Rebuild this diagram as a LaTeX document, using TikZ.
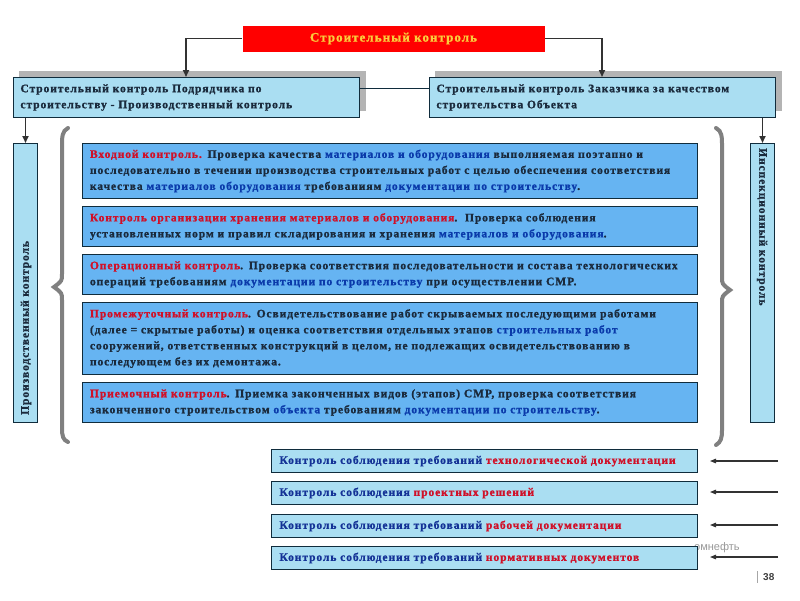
\documentclass[tikz,border=0pt]{standalone}
\usepackage{fontspec}
\setmainfont{Liberation Serif}[LetterSpace=8, BoldFeatures={FakeBold=1.2}]
\setsansfont{Liberation Sans}
\usetikzlibrary{arrows.meta}
\definecolor{lb}{RGB}{170,222,242}
\definecolor{mb}{RGB}{102,180,242}
\definecolor{bord}{RGB}{16,44,60}
\definecolor{txt}{RGB}{26,42,60}
\definecolor{rt}{RGB}{208,16,40}
\definecolor{bt}{RGB}{10,58,170}
\definecolor{bbt}{RGB}{20,50,150}
\definecolor{arrc}{RGB}{50,50,50}
\definecolor{ttl}{RGB}{250,205,60}
\definecolor{shd}{RGB}{180,180,180}
\definecolor{brc}{RGB}{128,128,128}
\begin{document}
\begin{tikzpicture}[x=1pt,y=-1pt,
  font=\bfseries\fontsize{11.5}{16}\selectfont,
  box/.style={draw=bord, line width=1pt, inner sep=0pt, anchor=north west},
  lbox/.style={box, fill=lb, text=txt, align=left, inner xsep=7pt},
  mbox/.style={box, fill=mb, text=txt, align=left, inner xsep=7pt, minimum width=615pt, text width=600pt},
  bbox/.style={box, fill=lb, text=bbt, align=left, inner xsep=8pt, minimum width=426pt, minimum height=23pt, text width=410pt},
  arr/.style={-{Triangle[length=7pt,width=6pt]}, line width=1.6pt, draw=arrc},
  barr/.style={-{Triangle[length=6pt,width=4.5pt]}, line width=1.2pt, draw=arrc},
  brace/.style={draw=brc, line width=4pt, line cap=round}]
\useasboundingbox (0,0) rectangle (800,600);
\fill[white] (0,0) rectangle (800,600);

% top title
\node[box, draw=none, fill=red, minimum width=302pt, minimum height=26pt, text=ttl,
  font=\bfseries\fontsize{13}{15}\selectfont] (title) at (242,25) {Строительный контроль};

% shadows
\fill[shd] (19,71) rectangle (366,111);
\fill[shd] (435,71) rectangle (782,111);

% second level boxes
\node[lbox, minimum width=346pt, minimum height=40pt, text width=332pt] (podr) at (13,77)
  {Строительный контроль Подрядчика по\\строительству - Производственный контроль};
\node[lbox, minimum width=346pt, minimum height=40pt, text width=332pt] (zak) at (429,77)
  {Строительный контроль Заказчика за качеством\\строительства Объекта};

\draw[line width=0.8pt, draw=bord] (podr.east |- 0,88) -- (zak.west |- 0,88);

% connectors from title
\draw[arr] (title.west) -| (podr.north -| 186,0);
\draw[arr] (title.east) -| (zak.north -| 602,0);

% vertical boxes
\node[box, fill=lb, minimum width=24pt, minimum height=279pt] (pv) at (13,143) {};
\node[rotate=90, text=txt, anchor=west, inner sep=0pt, font=\bfseries\fontsize{11.5}{12}\selectfont] (pvt) at (26,415) {Производственный контроль};
\node[box, fill=lb, minimum width=24pt, minimum height=279pt] (ik) at (750,143) {};
\node[rotate=-90, text=txt, anchor=west, inner sep=0pt, font=\bfseries\fontsize{11.5}{12}\selectfont] (ikt) at (762,148) {Инспекционный контроль};

\draw[arr] (podr.south -| pv.north) -- (pv.north);
\draw[arr] (zak.south -| ik.north) -- (ik.north);

% braces
\draw[brace] (68,128) .. controls (62,131) and (62,137) .. (62,146) -- (62,274)
  .. controls (62,281) .. (54,287) .. controls (62,293) .. (62,300) -- (62,428)
  .. controls (62,436) and (63,440) .. (68,442);
\draw[brace] (716,128) .. controls (722,131) and (722,137) .. (722,146) -- (722,277)
  .. controls (722,284) .. (730,290) .. controls (722,296) .. (722,303) -- (722,430)
  .. controls (722,438) and (721,442) .. (716,445);

% middle boxes
\node[mbox, minimum height=55pt] (m1) at (82,143)
  {\textcolor{rt}{Входной контроль.} Проверка качества \textcolor{bt}{материалов и оборудования} выполняемая поэтапно и\\
   последовательно в течении производства строительных работ с целью обеспечения соответствия\\
   качества \textcolor{bt}{материалов оборудования} требованиям \textcolor{bt}{документации по строительству}.};
\node[mbox, minimum height=40pt] (m2) at (82,206)
  {\textcolor{rt}{Контроль организации хранения материалов и оборудования}.\ \ Проверка соблюдения\\
   установленных норм и правил складирования и хранения \textcolor{bt}{материалов и оборудования}.};
\node[mbox, minimum height=40pt] (m3) at (82,254)
  {\textcolor{rt}{Операционный контроль}. Проверка соответствия последовательности и состава технологических\\
   операций требованиям \textcolor{bt}{документации по строительству} при осуществлении СМР.};
\node[mbox, minimum height=72pt] (m4) at (82,302)
  {\textcolor{rt}{Промежуточный контроль}. Освидетельствование работ скрываемых последующими работами\\
   (далее = скрытые работы) и оценка соответствия отдельных этапов \textcolor{bt}{строительных работ}\\
   сооружений, ответственных конструкций в целом, не подлежащих освидетельствованию в\\
   последующем без их демонтажа.};
\node[mbox, minimum height=40pt] (m5) at (82,382)
  {\textcolor{rt}{Приемочный контроль}. Приемка законченных видов (этапов) СМР, проверка соответствия\\
   законченного строительством \textcolor{bt}{объекта} требованиям \textcolor{bt}{документации по строительству}.};

% footer logo remnant
\node[anchor=west, inner sep=0pt, text=gray!80, font=\sffamily\fontsize{11}{12}\selectfont] (logo) at (694,548) {омнефть};

% bottom boxes
\node[bbox] (b1) at (271,449) {Контроль соблюдения требований \textcolor{rt}{технологической документации}};
\node[bbox] (b2) at (271,481) {Контроль соблюдения \textcolor{rt}{проектных решений}};
\node[bbox] (b3) at (271,514) {Контроль соблюдения требований \textcolor{rt}{рабочей документации}};
\node[bbox] (b4) at (271,546) {Контроль соблюдения требований \textcolor{rt}{нормативных документов}};

\coordinate (s1) at (778,461); \coordinate (e1) at (710,461);
\coordinate (s2) at (778,492); \coordinate (e2) at (710,492);
\coordinate (s3) at (778,525); \coordinate (e3) at (710,525);
\coordinate (s4) at (778,557); \coordinate (e4) at (710,557);
\draw[barr] (s1) -- (e1);
\draw[barr] (s2) -- (e2);
\draw[barr] (s3) -- (e3);
\draw[barr] (s4) -- (e4);

% page number
\coordinate (pa) at (757,571); \coordinate (pb) at (757,583);
\draw[gray!70, line width=0.6pt] (pa) -- (pb);
\node[anchor=west, inner sep=0pt, text=black!75, font=\sffamily\bfseries\fontsize{10}{11}\selectfont] (pg) at (763,577) {38};
\end{tikzpicture}
\end{document}
